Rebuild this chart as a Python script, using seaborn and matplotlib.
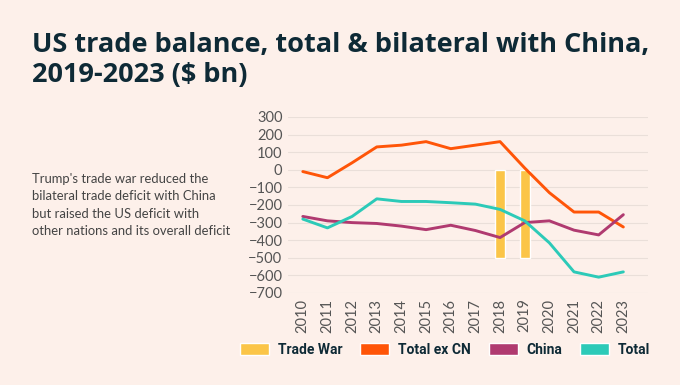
import matplotlib
matplotlib.use("Agg")
import matplotlib.pyplot as plt
from matplotlib.patches import Patch
import seaborn as sns
import pandas as pd
import numpy as np

years = [2010, 2011, 2012, 2013, 2014, 2015, 2016, 2017, 2018, 2019, 2020, 2021, 2022, 2023]
total_ex_cn = [-10, -45, 40, 130, 140, 160, 120, 140, 160, 10, -130, -240, -240, -325]
china = [-265, -290, -300, -305, -320, -340, -315, -345, -385, -300, -290, -343, -370, -255]
total = [-280, -330, -265, -165, -180, -180, -187, -195, -225, -290, -415, -580, -610, -580]
trade_war_years = [2018, 2019]
trade_war_values = [-500, -500]

series_names = ["Total ex CN", "China", "Total"]
colors = {"Total ex CN": "#FF5508", "China": "#B03A70", "Total": "#2CCAB8"}
bar_color = "#FBC548"
bg = "#FDF0EA"
dark = "#0E2A36"
grey = "#555555"

title_lines = ["US trade balance, total & bilateral with China,", "2019-2023 ($ bn)"]
note_lines = ["Trump's trade war reduced the", "bilateral trade deficit with China",
              "but raised the US deficit with", "other nations and its overall deficit"]

df = pd.DataFrame({
    "year": years * 3,
    "value": total_ex_cn + china + total,
    "series": ["Total ex CN"] * len(years) + ["China"] * len(years) + ["Total"] * len(years),
})

sns.set_theme(style="white")
plt.rcParams["font.family"] = ["Lato", "DejaVu Sans"]

fig = plt.figure(figsize=(6.8, 3.85), dpi=100, facecolor=bg)
ax = fig.add_axes([288 / 680, 1 - 293 / 385, 360 / 680, 176 / 385])
ax.set_facecolor(bg)

ax.bar(trade_war_years, trade_war_values, width=0.4, color=bar_color, zorder=2)
sns.lineplot(data=df, x="year", y="value", hue="series", hue_order=series_names,
             palette=colors, linewidth=2.1, ax=ax, legend=False, zorder=3)

ax.set_xlim(2009.4, 2024.0)
ax.set_ylim(-700, 300)
ax.set_yticks(np.arange(-700, 301, 100))
ax.set_xticks(years)
ax.set_xticklabels([str(y) for y in years], rotation=90)
ax.grid(axis="y", color="#EADFD9", linewidth=0.8, zorder=0)
ax.grid(axis="x", visible=False)
for s in ax.spines.values():
    s.set_visible(False)
ax.tick_params(axis="both", length=0, labelsize=10.5, colors=grey, pad=4)
ax.set_xlabel("")
ax.set_ylabel("")

for i, line in enumerate(title_lines):
    fig.text(32 / 680, 1 - (52 + 30 * i) / 385, line,
             fontsize=19.5, fontweight="bold", color=dark, va="baseline", ha="left",
             family=["Open Sans", "DejaVu Sans"])

for i, line in enumerate(note_lines):
    fig.text(32 / 680, 1 - (183 + 17.3 * i) / 385, line,
             fontsize=9.4, color="#444444", va="baseline", ha="left")

handles = [Patch(facecolor=bar_color, label="Trade War"),
           Patch(facecolor=colors["Total ex CN"], label="Total ex CN"),
           Patch(facecolor=colors["China"], label="China"),
           Patch(facecolor=colors["Total"], label="Total")]
leg = fig.legend(handles=handles, loc="center", bbox_to_anchor=(445 / 680, 1 - 350 / 385),
                 ncol=4, frameon=False, handlelength=2.1, handleheight=0.9,
                 handletextpad=0.6, columnspacing=1.3,
                 prop={"weight": "bold", "size": 10, "family": ["Roboto", "DejaVu Sans"]})
for t in leg.get_texts():
    t.set_color(dark)

fig.savefig("out.png", dpi=100, facecolor=bg)
